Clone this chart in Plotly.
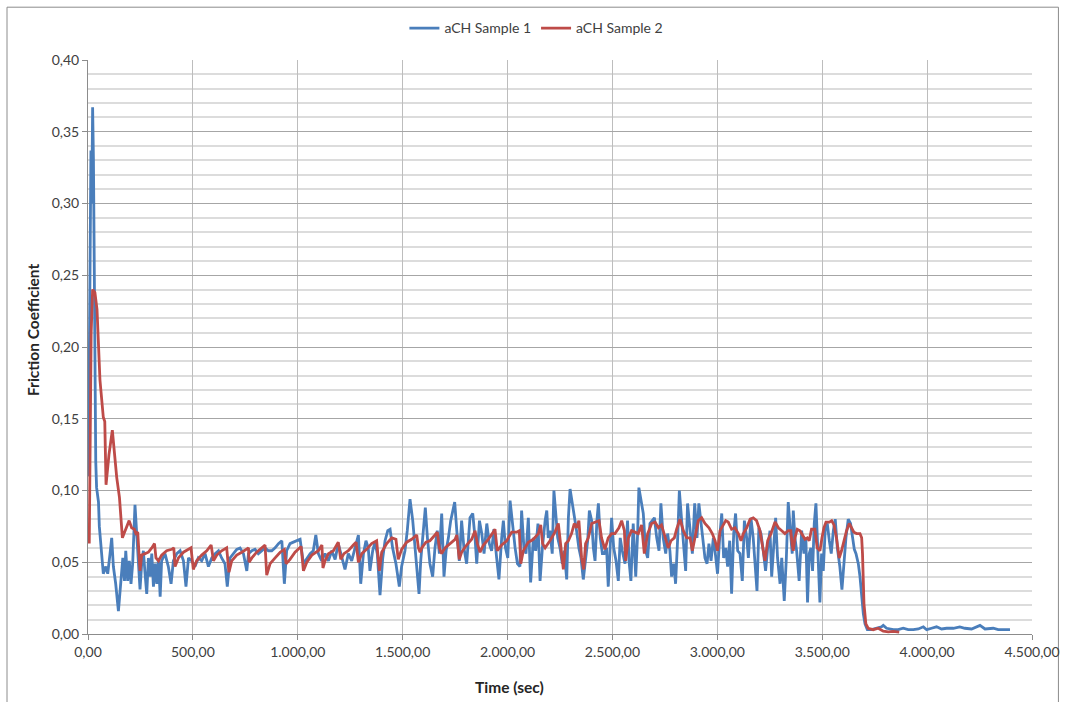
import plotly.graph_objects as go

# ---------------- data ----------------
t1 = [2, 6, 10, 14, 18, 22, 26, 30, 33, 37, 41, 46, 50, 54, 58, 65, 73, 85, 94, 105, 113, 121, 132, 145,
      158, 166, 174, 180, 189, 197, 205, 213, 224, 232, 240, 248, 256, 264, 272, 280, 288, 296, 304, 312,
      320, 328, 336, 344, 351, 367, 383, 396, 407, 423, 439, 455, 467, 479, 494, 510, 526, 542, 558, 574,
      590, 606, 622, 637, 653, 664, 677, 693, 709, 725, 741, 757, 765, 781, 796, 812, 828, 844, 860, 876,
      892, 908, 924, 936, 947, 963, 979, 995, 1011, 1027, 1043, 1059, 1074, 1086, 1098,
      1114, 1130, 1146, 1162, 1178, 1193, 1209, 1225, 1241, 1257, 1273, 1289, 1300, 1313, 1325, 1336, 1344,
      1357, 1368, 1379, 1392, 1405, 1416, 1429, 1440, 1452, 1468, 1484, 1495, 1511, 1522, 1535, 1548, 1559,
      1567, 1578, 1586, 1599, 1608, 1618, 1630, 1643, 1654, 1665, 1675, 1686, 1697, 1707, 1718, 1729, 1738,
      1748, 1758, 1770, 1781, 1792, 1805, 1813, 1821, 1834, 1845, 1853, 1866, 1877, 1888, 1901, 1913, 1924,
      1935, 1948, 1959, 1972, 1980, 1990, 2001, 2012, 2023, 2036, 2047, 2059, 2067, 2078, 2088, 2099, 2110,
      2123, 2134, 2145, 2155, 2166, 2179, 2187, 2194, 2202, 2213, 2221,
      2239, 2250, 2261, 2270, 2282, 2290, 2298, 2309, 2318, 2329, 2340, 2350, 2361, 2372, 2382, 2390, 2401,
      2409, 2417, 2426, 2433, 2442, 2452, 2461, 2472, 2480, 2488, 2496, 2506, 2517, 2528, 2537, 2547, 2560,
      2572, 2579, 2588, 2599, 2611, 2620, 2626, 2636, 2647, 2658, 2668, 2679, 2690, 2700, 2711, 2722, 2731,
      2742, 2754, 2763, 2774, 2782, 2792, 2801, 2811, 2819, 2830, 2839, 2849, 2858, 2870, 2881, 2892, 2903,
      2912, 2922, 2931, 2941, 2951, 2960, 2970, 2981, 2989, 3001, 3011, 3021, 3030, 3040, 3049, 3059, 3068,
      3078, 3087, 3097, 3108, 3119, 3129, 3140, 3148, 3160, 3171, 3179, 3189, 3198, 3208, 3219, 3230, 3240,
      3251, 3259, 3268, 3278, 3287, 3299, 3307, 3319, 3329, 3338, 3348, 3357,
      3362, 3370, 3378, 3390, 3402, 3413, 3422, 3430, 3438, 3446, 3454, 3462, 3470, 3478, 3489, 3497, 3505,
      3514, 3524, 3534, 3543, 3553, 3562, 3572, 3584, 3594, 3603, 3613, 3624, 3635, 3645, 3653, 3661, 3672,
      3680, 3688, 3696, 3704, 3715, 3735, 3759, 3783, 3791, 3807, 3839, 3862, 3886, 3910, 3934, 3958, 3982,
      3998, 4021, 4045, 4069, 4093, 4125, 4156, 4180, 4212, 4252, 4276, 4315, 4339, 4363, 4395]
mu1 = [0.110, 0.170, 0.260, 0.337, 0.300, 0.367, 0.330, 0.220, 0.154, 0.120, 0.102, 0.098, 0.092, 0.075,
       0.067, 0.053, 0.042, 0.047, 0.042, 0.056, 0.067, 0.047, 0.035, 0.016,
       0.037, 0.053, 0.037, 0.058, 0.037, 0.051, 0.035, 0.049, 0.090, 0.067, 0.044, 0.031, 0.049, 0.058,
       0.042, 0.028, 0.053, 0.040, 0.056, 0.033, 0.049, 0.035, 0.053, 0.026, 0.051, 0.056, 0.047, 0.035,
       0.051, 0.056, 0.058, 0.051, 0.033, 0.053, 0.051, 0.047, 0.053, 0.051, 0.056, 0.047, 0.053, 0.056,
       0.058, 0.053, 0.049, 0.033, 0.053, 0.056, 0.059, 0.060, 0.056, 0.044, 0.056, 0.058, 0.059, 0.056,
       0.058, 0.060, 0.058, 0.058, 0.060, 0.063, 0.065, 0.035, 0.058, 0.063, 0.064, 0.065, 0.066, 0.049,
       0.053, 0.056, 0.058, 0.069, 0.056,
       0.051, 0.056, 0.051, 0.058, 0.052, 0.063, 0.053, 0.045, 0.056, 0.051, 0.060, 0.069, 0.035, 0.056,
       0.065, 0.060, 0.044, 0.058, 0.064, 0.056, 0.027, 0.053, 0.065, 0.072, 0.073, 0.060, 0.049, 0.033,
       0.047, 0.058, 0.072, 0.094, 0.079, 0.058, 0.044, 0.028, 0.051, 0.070, 0.088, 0.067, 0.049, 0.040,
       0.060, 0.072, 0.056, 0.084, 0.040, 0.058, 0.067, 0.079, 0.086, 0.092, 0.072, 0.051, 0.079, 0.060,
       0.049, 0.065, 0.081, 0.084, 0.067, 0.049, 0.079, 0.070, 0.056, 0.077, 0.063, 0.058, 0.073, 0.053,
       0.038, 0.067, 0.079, 0.060, 0.053, 0.093, 0.077, 0.060, 0.049, 0.047, 0.086, 0.060, 0.056, 0.081,
       0.036, 0.067, 0.058, 0.077, 0.037, 0.060, 0.079, 0.086, 0.067, 0.072, 0.056, 0.100,
       0.067, 0.060, 0.049, 0.058, 0.038, 0.081, 0.101, 0.091, 0.084, 0.072, 0.060, 0.053, 0.038, 0.051,
       0.065, 0.086, 0.079, 0.060, 0.051, 0.079, 0.091, 0.067, 0.056, 0.056, 0.060, 0.033, 0.056, 0.081,
       0.060, 0.051, 0.037, 0.067, 0.058, 0.049, 0.079, 0.051, 0.037, 0.077, 0.040, 0.070, 0.102, 0.093,
       0.084, 0.058, 0.053, 0.077, 0.079, 0.081, 0.067, 0.058, 0.091, 0.067, 0.056, 0.070, 0.058, 0.040,
       0.049, 0.035, 0.067, 0.100, 0.079, 0.063, 0.044, 0.091, 0.072, 0.056, 0.091, 0.067, 0.091, 0.077,
       0.067, 0.053, 0.049, 0.063, 0.051, 0.067, 0.058, 0.042, 0.067, 0.084, 0.053, 0.060, 0.047, 0.065,
       0.028, 0.070, 0.084, 0.058, 0.056, 0.037, 0.079, 0.067, 0.053, 0.081, 0.067, 0.047, 0.030, 0.074,
       0.070, 0.058, 0.044, 0.060, 0.072, 0.040, 0.063, 0.081, 0.053, 0.035, 0.053, 0.023, 0.053, 0.092,
       0.072, 0.056,
       0.086, 0.067, 0.058, 0.037, 0.072, 0.056, 0.067, 0.022, 0.056, 0.060, 0.044, 0.077, 0.091, 0.065,
       0.022, 0.056, 0.044, 0.072, 0.077, 0.065, 0.056, 0.072, 0.080, 0.060, 0.047, 0.031, 0.049, 0.067,
       0.080, 0.077, 0.067, 0.059, 0.056, 0.049, 0.040, 0.026, 0.014, 0.007, 0.003, 0.003, 0.004, 0.005,
       0.006, 0.004, 0.003, 0.003, 0.004, 0.003, 0.003, 0.0035, 0.005, 0.003, 0.004, 0.005, 0.0035, 0.004,
       0.004, 0.005, 0.004, 0.0035, 0.006, 0.0035, 0.004, 0.003, 0.003, 0.003]

t2 = [6, 15, 22, 33, 43, 57, 73, 80, 86, 100, 116, 125, 137, 150, 164, 177, 196, 208, 221, 228, 237, 248,
      256, 272, 288, 304, 317, 324, 336, 351, 375, 399, 409, 415, 431, 455, 479, 491, 502, 518, 542, 566,
      587, 598, 614, 637, 661, 672, 685, 709, 733, 757, 765, 768, 781, 804, 828, 844, 852, 868, 892, 916,
      936, 944, 963, 987, 1016, 1027, 1043, 1067, 1098, 1115, 1120,
      1130, 1146, 1170, 1193, 1205, 1220, 1241, 1265, 1278, 1289, 1305, 1328, 1352, 1376, 1389, 1400, 1424,
      1448, 1468, 1479, 1495, 1519, 1543, 1567, 1575, 1583, 1591, 1611, 1630, 1654, 1665, 1675, 1686, 1702,
      1726, 1750, 1758, 1770, 1781, 1805, 1829, 1845, 1856, 1869, 1885, 1908, 1932, 1940, 1951, 1972, 1996,
      2020, 2043, 2056, 2063, 2075, 2099, 2123, 2147, 2158, 2167, 2179, 2202, 2226, 2242,
      2255, 2266, 2277, 2290, 2305, 2318, 2329, 2340, 2353, 2363, 2372, 2385, 2401, 2417, 2436, 2448, 2464,
      2480, 2496, 2512, 2531, 2544, 2557, 2563, 2576, 2591, 2607, 2623, 2639, 2652, 2668, 2687, 2703, 2719,
      2734, 2750, 2766, 2779, 2795, 2806, 2822, 2838, 2854, 2870, 2881, 2893, 2909, 2925, 2941, 2960, 2976,
      2989, 3001, 3013, 3028, 3040, 3052, 3068, 3084, 3100, 3113, 3124, 3140, 3156, 3171, 3187, 3203, 3214,
      3227, 3240, 3256, 3275, 3291, 3307, 3322, 3338, 3350, 3357, 3362,
      3370, 3381, 3394, 3406, 3418, 3429, 3438, 3449, 3465, 3476, 3489, 3499, 3508, 3518, 3534, 3545, 3556,
      3568, 3581, 3592, 3603, 3616, 3629, 3640, 3651, 3664, 3680, 3688, 3692, 3699, 3708, 3719, 3743, 3767,
      3791, 3815, 3839, 3867]
mu2 = [0.063, 0.210, 0.240, 0.238, 0.226, 0.177, 0.151, 0.148, 0.104, 0.125, 0.142, 0.125, 0.109, 0.095,
       0.067, 0.072, 0.079, 0.074, 0.073, 0.070, 0.071, 0.044, 0.055, 0.056, 0.057, 0.060, 0.063, 0.053,
       0.051, 0.055, 0.058, 0.059, 0.060, 0.047, 0.053, 0.057, 0.059, 0.060, 0.045, 0.051, 0.055, 0.058,
       0.062, 0.051, 0.055, 0.058, 0.060, 0.043, 0.051, 0.055, 0.057, 0.059, 0.060, 0.050, 0.053, 0.057,
       0.060, 0.062, 0.041, 0.049, 0.053, 0.057, 0.059, 0.049, 0.052, 0.057, 0.061, 0.044, 0.050, 0.055,
       0.058, 0.062, 0.046,
       0.051, 0.056, 0.058, 0.064, 0.052, 0.056, 0.058, 0.062, 0.064, 0.050, 0.056, 0.059, 0.063, 0.065,
       0.044, 0.057, 0.063, 0.067, 0.066, 0.052, 0.059, 0.064, 0.066, 0.069, 0.060, 0.057, 0.060, 0.064,
       0.065, 0.069, 0.071, 0.060, 0.056, 0.060, 0.063, 0.066, 0.069, 0.052, 0.057, 0.062, 0.066, 0.072,
       0.063, 0.057, 0.062, 0.066, 0.071, 0.073, 0.058, 0.062, 0.065, 0.071, 0.071, 0.072, 0.049, 0.058,
       0.064, 0.066, 0.070, 0.076, 0.063, 0.060, 0.065, 0.071, 0.077,
       0.058, 0.045, 0.063, 0.065, 0.070, 0.077, 0.074, 0.079, 0.053, 0.045, 0.063, 0.067, 0.077, 0.078,
       0.079, 0.067, 0.059, 0.067, 0.070, 0.070, 0.074, 0.079, 0.072, 0.051, 0.067, 0.072, 0.071, 0.070,
       0.076, 0.056, 0.070, 0.077, 0.078, 0.074, 0.076, 0.067, 0.060, 0.065, 0.067, 0.073, 0.080, 0.072,
       0.067, 0.067, 0.058, 0.067, 0.079, 0.081, 0.077, 0.074, 0.070, 0.065, 0.058, 0.072, 0.076, 0.079,
       0.078, 0.073, 0.074, 0.070, 0.065, 0.070, 0.074, 0.080, 0.081, 0.079, 0.072, 0.063, 0.051, 0.065,
       0.070, 0.078, 0.074, 0.072, 0.070, 0.072, 0.072, 0.062, 0.058,
       0.067, 0.073, 0.072, 0.069, 0.066, 0.067, 0.065, 0.073, 0.073, 0.060, 0.058, 0.067, 0.074, 0.078,
       0.078, 0.079, 0.076, 0.067, 0.053, 0.058, 0.065, 0.072, 0.077, 0.074, 0.071, 0.070, 0.070, 0.067,
       0.056, 0.021, 0.007, 0.004, 0.003, 0.004, 0.002, 0.0015, 0.0018, 0.0013]

series_names = ["aCH Sample 1", "aCH Sample 2"]
series_colors = ["#4A7EBB", "#BE4B48"]

x_title = "Time (sec)"
y_title = "Friction Coefficient"

FONT = "Lato, 'Open Sans', sans-serif"

fig = go.Figure()
fig.add_trace(go.Scatter(x=t1, y=mu1, mode="lines", name=series_names[0],
                         line=dict(color=series_colors[0], width=2.8)))
fig.add_trace(go.Scatter(x=t2, y=mu2, mode="lines", name=series_names[1],
                         line=dict(color=series_colors[1], width=2.8)))

fig.update_layout(
    width=1065, height=702,
    margin=dict(l=88, r=33, t=60, b=68, autoexpand=False),
    paper_bgcolor="white", plot_bgcolor="white",
    separators=",.",
    font=dict(family=FONT, size=14, color="#404040"),
    showlegend=True,
    legend=dict(orientation="h", x=0.475, xanchor="center", y=1.055, yanchor="middle",
                font=dict(family=FONT, size=14, color="#404040"),
                bgcolor="rgba(0,0,0,0)", itemwidth=30, tracegroupgap=0),
    xaxis=dict(range=[0, 4500], tick0=0, dtick=500, tickformat=",.2f", automargin=False,
               tickfont=dict(family=FONT, size=14, color="#404040"),
               showgrid=True, gridcolor="#BDBDBD", gridwidth=1,
               showline=True, linecolor="#8C8C8C", linewidth=1,
               ticks="outside", ticklen=5, tickcolor="#8C8C8C",
               zeroline=False, fixedrange=True),
    yaxis=dict(range=[0, 0.40], tick0=0, dtick=0.05, tickformat=".2f", automargin=False,
               tickfont=dict(family=FONT, size=14, color="#404040"),
               showgrid=True, gridcolor="#A6A6A6", gridwidth=1,
               minor=dict(dtick=0.01, showgrid=True, gridcolor="#DCDCDC", gridwidth=1.5),
               showline=True, linecolor="#8C8C8C", linewidth=1,
               ticks="outside", ticklen=5, tickcolor="#8C8C8C",
               zeroline=False, fixedrange=True),
    annotations=[
        dict(text="<b>" + x_title + "</b>", xref="paper", yref="paper", x=0.447, y=-0.092,
             showarrow=False, font=dict(family=FONT, size=15.5, color="#262626"),
             xanchor="center", yanchor="middle"),
        dict(text="<b>" + y_title + "</b>", xref="paper", yref="paper", x=-0.058, y=0.53,
             showarrow=False, textangle=-90, font=dict(family=FONT, size=15.5, color="#262626"),
             xanchor="center", yanchor="middle"),
    ],
    shapes=[
        dict(type="rect", xref="paper", yref="paper", x0=-0.0858, x1=1.028, y0=-0.13, y1=1.092,
             line=dict(color="#8C8C8C", width=1), fillcolor="rgba(0,0,0,0)", layer="below"),
    ],
)

fig.write_html("out.html")
